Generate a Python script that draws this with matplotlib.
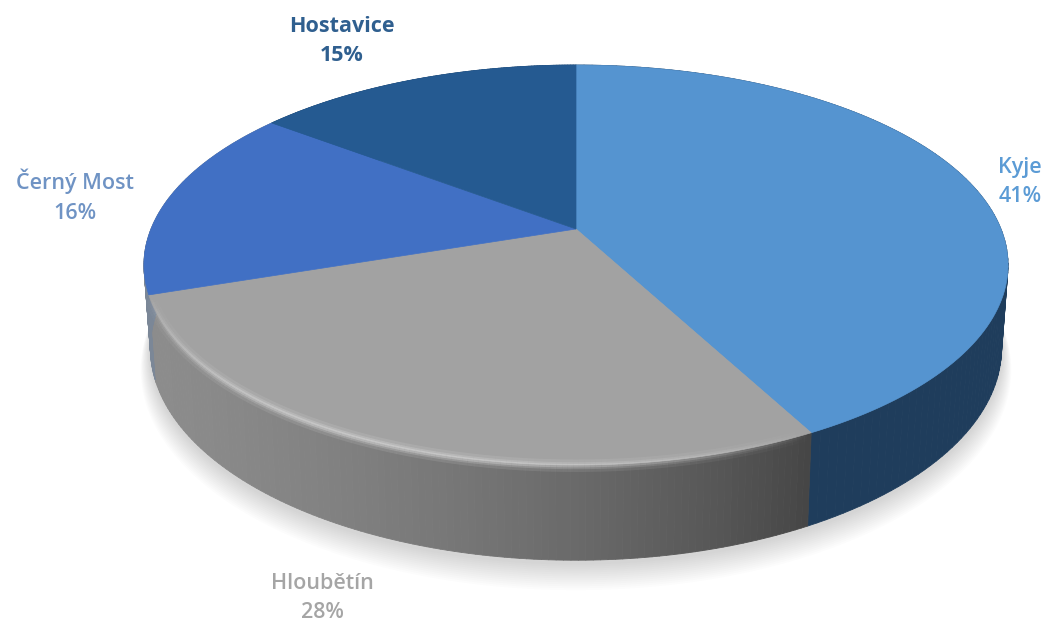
import numpy as np
import matplotlib
matplotlib.use('Agg')
import matplotlib.pyplot as plt
from matplotlib.collections import PolyCollection, LineCollection
from matplotlib.colors import to_rgb

# label text and printed percentages
districts = ['Kyje', 'Hloubětín', 'Černý Most', 'Hostavice']
percent_labels = [41, 28, 16, 15]
slice_shares = [42.3, 27.5, 15.6, 14.6]

top_colors = ['#5594d0', '#a2a2a2', '#4170c4', '#255a91']
wall_left = ['#1f3d5c', '#8c8c8c', '#7b8797', '#193f66']
wall_right = ['#1f3d5c', '#464646', '#7b8797', '#193f66']
label_colors = ['#5b9bd5', '#a5a5a5', '#6f93c4', '#2f5f8f']
label_pos = [(1020, 182), (322, 598), (75, 196), (342, 41)]

# perspective of the disc, in image pixels
APEX_X, APEX_Y = 576, 229
SX, SY, K = 425, 193.5, 0.18
DEPTH = 81


def project(theta, down=0.0, shrink=1.0):
    # theta clockwise from 12 o'clock, down is how far the disc is pushed below the top face
    u, v = np.sin(theta), np.cos(theta)
    w = 1 + K * v
    x = APEX_X + SX * shrink * u / w
    y = APEX_Y - SY * shrink * v / w + down / w
    return x, y


fig = plt.figure(figsize=(10.45, 6.23), dpi=100, facecolor='white')
ax = fig.add_axes([0, 0, 1, 1])
ax.set_xlim(0, 1045)
ax.set_ylim(623, 0)
ax.axis('off')

edges = np.radians(np.cumsum([0] + slice_shares) * 3.6)
full = np.linspace(0, 2 * np.pi, 361)

# soft shadow under the disc
for i in range(14, 0, -1):
    sx, sy = project(full, DEPTH + 2 + i * 1.3, 0.985 + i * 0.0016)
    ax.fill(sx, sy, color='#808080', alpha=0.022, lw=0, zorder=1)

# side wall, thin quads so the grey slice can shade across
for i in range(len(slice_shares)):
    th = np.linspace(edges[i], edges[i + 1], 120)
    xt, yt = project(th)
    xb, yb = project(th, DEPTH, 0.985)
    c0, c1 = np.array(to_rgb(wall_left[i])), np.array(to_rgb(wall_right[i]))
    quads, cols = [], []
    for j in range(len(th) - 1):
        quads.append([(xt[j], yt[j]), (xt[j + 1], yt[j + 1]), (xb[j + 1], yb[j + 1]), (xb[j], yb[j])])
        f = (1 - j / (len(th) - 1)) ** 2.2
        cols.append(c0 + (c1 - c0) * f)
    ax.add_collection(PolyCollection(quads, facecolors=cols, edgecolors=cols, linewidths=0.6, zorder=2))

# top face
for i in range(len(slice_shares)):
    th = np.linspace(edges[i], edges[i + 1], 120)
    xt, yt = project(th)
    ax.fill(np.r_[APEX_X, xt], np.r_[APEX_Y, yt], color=top_colors[i], lw=0.5, zorder=3)

# pale bevel on the grey rim, strongest near the front
th = np.linspace(edges[1], edges[2], 160)
xt, yt = project(th, 1.0, 0.998)
segs = [[(xt[j], yt[j]), (xt[j + 1], yt[j + 1])] for j in range(len(th) - 1)]
glow = np.sin(np.linspace(0, np.pi, len(segs))) ** 0.7
for lw, a in [(9, 0.12), (5, 0.2), (2.5, 0.3)]:
    rgba = [(0.93, 0.93, 0.93, a * g) for g in glow]
    ax.add_collection(LineCollection(segs, colors=rgba, linewidths=lw, zorder=4))

# data labels
for name, pct, col, (lx, ly) in zip(districts, percent_labels, label_colors, label_pos):
    weight = 'bold' if name == 'Hostavice' else 'semibold'
    ax.text(lx, ly, f'{name}\n{pct}%', color=col, fontsize=15.5, family='Open Sans', fontweight=weight,
            ha='center', va='center', linespacing=1.55, zorder=5)

fig.savefig('out.png', dpi=100, facecolor='white')
